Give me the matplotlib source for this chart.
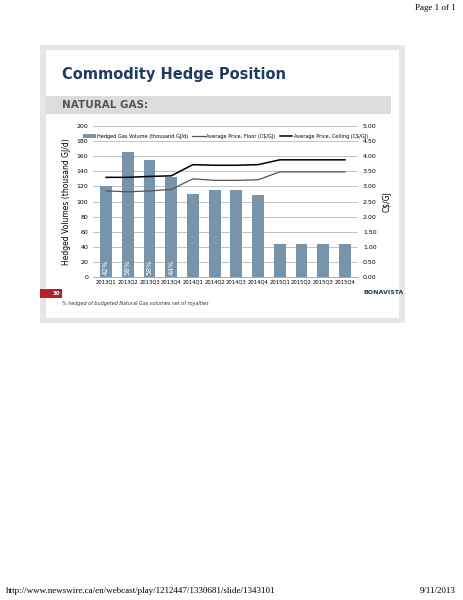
import matplotlib
matplotlib.use("Agg")
import matplotlib.pyplot as plt
from matplotlib.patches import Rectangle

quarters = ["2013Q1","2013Q2","2013Q3","2013Q4","2014Q1","2014Q2","2014Q3","2014Q4","2015Q1","2015Q2","2015Q3","2015Q4"]
volumes = [120,165,155,133,110,115,115,109,44,44,44,44]
floor = [2.85,2.82,2.85,2.90,3.25,3.20,3.20,3.22,3.48,3.48,3.48,3.48]
ceiling = [3.30,3.30,3.33,3.35,3.72,3.70,3.70,3.72,3.88,3.88,3.88,3.88]
pct_labels = ["42%","58%","58%","44%"]

W, H = 464, 600
fig = plt.figure(figsize=(W/100, H/100), dpi=100)
bg = fig.add_axes([0,0,1,1]); bg.set_xlim(0,W); bg.set_ylim(H,0); bg.axis("off")

def fx(x): return x/W
def fy(y): return 1-y/H

bg.text(456, 8, "Page 1 of 1", ha="right", va="center", fontsize=6.5, family="Liberation Serif")
bg.text(6, 591, "http://www.newswire.ca/en/webcast/play/1212447/1330681/slide/1343101", ha="left", va="center", fontsize=6.5, family="Liberation Serif")
bg.text(456, 591, "9/11/2013", ha="right", va="center", fontsize=6.5, family="Liberation Serif")

# slide
bg.add_patch(Rectangle((40,45),365,278, facecolor="#e6e6e6", edgecolor="none"))
bg.add_patch(Rectangle((46,50),353,268, facecolor="white", edgecolor="none"))
bg.add_patch(Rectangle((46,96),345,18, facecolor="#dcdcdc", edgecolor="none"))
bg.text(62, 75, "Commodity Hedge Position", fontsize=10.5, fontweight="bold", color="#1f3d63", va="center")
bg.text(62, 105, "NATURAL GAS:", fontsize=7.5, fontweight="bold", color="#555555", va="center")
bg.add_patch(Rectangle((40,289),22,9, facecolor="#b22222", edgecolor="none"))
bg.text(60, 293.5, "30", fontsize=4, color="white", ha="right", va="center", fontweight="bold")
bg.text(62, 304, "% hedged of budgeted Natural Gas volumes net of royalties", fontsize=3.5, style="italic", color="#333333", va="center")
bg.text(384, 292, "BONAVISTA", fontsize=4.5, fontweight="bold", color="#1f3d63", ha="center", va="center")

ax = fig.add_axes([fx(93), fy(277), fx(358-93), fy(126)-fy(277)])
x = range(len(quarters))
ax.bar(x, volumes, width=0.55, color="#7894aa", label="Hedged Gas Volume (thousand GJ/d)", zorder=2)
ax.set_ylim(0,200); ax.set_yticks(range(0,201,20))
ax.set_xlim(-0.6, 11.6)
ax.set_xticks(list(x)); ax.set_xticklabels(quarters, fontsize=3.8)
ax.tick_params(axis="y", labelsize=4.5, length=0)
ax.tick_params(axis="x", length=0, pad=2)
ax.grid(axis="y", color="#aaaaaa", linewidth=0.5, zorder=0)
for s in ax.spines.values(): s.set_visible(False)
ax.spines["bottom"].set_visible(True); ax.spines["bottom"].set_color("#888888"); ax.spines["bottom"].set_linewidth(0.5)
ax.set_ylabel("Hedged Volumes (thousand GJ/d)", fontsize=5.5)
for i, t in enumerate(pct_labels):
    ax.text(i, 3, t, rotation=90, color="white", fontsize=5, ha="center", va="bottom")

ax2 = ax.twinx()
ax2.plot(x, floor, color="#555555", linewidth=0.9, label="Average Price, Floor (C$/GJ)", drawstyle="default")
ax2.plot(x, ceiling, color="black", linewidth=1.1, label="Average Price, Ceiling (C$/GJ)")
ax2.set_ylim(0,5); ax2.set_yticks([i*0.5 for i in range(11)])
ax2.set_yticklabels([f"{i*0.5:.2f}" for i in range(11)], fontsize=4.5)
ax2.tick_params(axis="y", length=0)
for s in ax2.spines.values(): s.set_visible(False)
ax2.set_ylabel("C$/GJ", fontsize=5.5)

h1,l1 = ax.get_legend_handles_labels(); h2,l2 = ax2.get_legend_handles_labels()
ax2.legend(h1+h2, l1+l2, loc="upper center", bbox_to_anchor=(0.5,0.98), ncol=3, fontsize=3.6, frameon=False, handlelength=2.5, columnspacing=0.8, handletextpad=0.3)

fig.savefig("out.png", dpi=100)
